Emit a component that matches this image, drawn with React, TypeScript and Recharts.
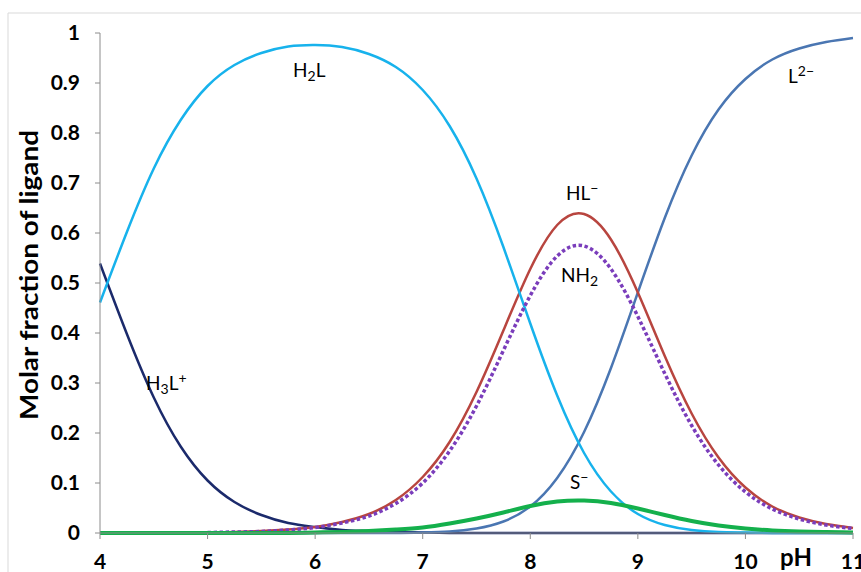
import React from 'react';
import { LineChart, Line, XAxis, YAxis } from 'recharts';

// values, every 0.25 pH unit
const phValues = [4, 4.25, 4.5, 4.75, 5, 5.25, 5.5, 5.75, 6, 6.25, 6.5, 6.75, 7, 7.25, 7.5, 7.75, 8, 8.25, 8.5, 8.75, 9, 9.25, 9.5, 9.75, 10, 10.25, 10.5, 10.75, 11];
const h3lValues = [0.539, 0.398, 0.271, 0.173, 0.105, 0.062, 0.036, 0.020, 0.012, 0.006, 0.004, 0.002, 0.001, 0, 0, 0, 0, 0, 0, 0, 0, 0, 0, 0, 0, 0, 0, 0, 0];
const h2lValues = [0.461, 0.602, 0.729, 0.826, 0.894, 0.936, 0.960, 0.973, 0.976, 0.972, 0.958, 0.932, 0.886, 0.814, 0.709, 0.572, 0.419, 0.275, 0.160, 0.083, 0.038, 0.016, 0.006, 0.002, 0.001, 0, 0, 0, 0];
const hlValues = [0, 0, 0, 0.001, 0.001, 0.002, 0.004, 0.007, 0.012, 0.022, 0.038, 0.066, 0.112, 0.182, 0.282, 0.405, 0.528, 0.616, 0.638, 0.587, 0.481, 0.354, 0.239, 0.151, 0.091, 0.053, 0.031, 0.018, 0.010];
const lValues = [0, 0, 0, 0, 0, 0, 0, 0, 0, 0, 0, 0, 0.001, 0.003, 0.009, 0.023, 0.053, 0.110, 0.202, 0.330, 0.481, 0.630, 0.755, 0.847, 0.908, 0.947, 0.969, 0.982, 0.990];
const nh2Values = [null, null, null, null, 0.001, 0.002, 0.003, 0.006, 0.011, 0.020, 0.034, 0.059, 0.100, 0.164, 0.254, 0.365, 0.475, 0.554, 0.574, 0.528, 0.433, 0.319, 0.215, 0.136, 0.082, 0.048, 0.028, 0.016, 0.009];
const sValues = [0, 0, 0, 0, 0, 0, 0, 0, 0.001, 0.002, 0.004, 0.007, 0.011, 0.019, 0.029, 0.041, 0.054, 0.063, 0.065, 0.060, 0.049, 0.036, 0.024, 0.015, 0.009, 0.005, 0.003, 0.002, 0.001];

const xTicks = [4, 5, 6, 7, 8, 9, 10, 11];
const yTicks = [0, 0.1, 0.2, 0.3, 0.4, 0.5, 0.6, 0.7, 0.8, 0.9, 1];

const rows = phValues.map((ph, i) => ({
  ph,
  h3l: h3lValues[i],
  h2l: h2lValues[i],
  hl: hlValues[i],
  l: lValues[i],
  nh2: nh2Values[i],
  s: sValues[i],
}));

const FONT = 'Lato, "Liberation Sans", sans-serif';
const tickStyle = { fontFamily: FONT, fontSize: 21, fontWeight: 700, fill: '#000' };

const App: React.FC = () => {
  return (
    <div style={{ position: 'absolute', left: 0, top: 0, width: 861, height: 572, background: '#fff' }}>
      {/* outer chart frame */}
      <svg width={861} height={572} style={{ position: 'absolute', left: 0, top: 0 }}>
        <line x1={8} y1={13} x2={861} y2={13} stroke="#d9d9d9" strokeWidth={1} />
        <line x1={8} y1={13} x2={8} y2={572} stroke="#d9d9d9" strokeWidth={1} />
      </svg>

      <div style={{ position: 'absolute', left: 0, top: 0 }}>
        <LineChart width={861} height={572} data={rows} margin={{ top: 33, right: 8, bottom: 0, left: 0 }}>
          <XAxis
            dataKey="ph"
            type="number"
            domain={[4, 11]}
            ticks={xTicks}
            tickSize={6}
            tickMargin={15}
            height={39}
            stroke="#8c8c8c"
            tick={tickStyle}
            interval={0}
          />
          <YAxis
            type="number"
            domain={[0, 1]}
            ticks={yTicks}
            tickSize={5}
            tickMargin={15}
            width={100}
            stroke="#8c8c8c"
            tick={tickStyle}
            interval={0}
          />
          <Line dataKey="h3l" type="natural" stroke="#1b2a6b" strokeWidth={2.5} dot={false} isAnimationActive={false} />
          <Line dataKey="l" type="natural" stroke="#4a76b2" strokeWidth={2.5} dot={false} isAnimationActive={false} />
          <Line dataKey="hl" type="natural" stroke="#b8453f" strokeWidth={2.5} dot={false} isAnimationActive={false} />
          <Line dataKey="h2l" type="natural" stroke="#17b2ec" strokeWidth={2.5} dot={false} isAnimationActive={false} />
          <Line dataKey="nh2" type="natural" stroke="#7a3dbb" strokeWidth={3.5} strokeDasharray="3.5 2.5" dot={false} isAnimationActive={false} connectNulls={false} />
          <Line dataKey="s" type="natural" stroke="#14b04c" strokeWidth={4} dot={false} isAnimationActive={false} />
        </LineChart>
      </div>

      {/* axis titles and curve labels */}
      <svg width={861} height={572} style={{ position: 'absolute', left: 0, top: 0, pointerEvents: 'none' }}>
        <g fontFamily={FONT}>
          <text x={38} y={275} transform="rotate(-90 38 275)" textAnchor="middle" fontSize={24} fontWeight={700} fill="#000" textLength={290} lengthAdjust="spacingAndGlyphs">
            Molar fraction of ligand
          </text>
          <text x={796} y={566} textAnchor="middle" fontSize={24} fontWeight={700} fill="#000">pH</text>

          <text x={293} y={77} fontSize={19} fill="#000">
            H<tspan fontSize={14} dy={4}>2</tspan><tspan dy={-4}>L</tspan>
          </text>
          <text x={788} y={83} fontSize={19} fill="#000">
            L<tspan fontSize={14} dy={-7}>2−</tspan>
          </text>
          <text x={566} y={200} fontSize={19} fill="#000">
            HL<tspan fontSize={14} dy={-7}>−</tspan>
          </text>
          <text x={561} y={282} fontSize={19} fill="#000">
            NH<tspan fontSize={14} dy={4}>2</tspan>
          </text>
          <text x={146} y={390} fontSize={19} fill="#000">
            H<tspan fontSize={14} dy={4}>3</tspan><tspan dy={-4}>L</tspan><tspan fontSize={14} dy={-7}>+</tspan>
          </text>
          <text x={570} y={489} fontSize={19} fill="#000">
            S<tspan fontSize={14} dy={-7}>−</tspan>
          </text>
        </g>
      </svg>
    </div>
  );
};

export default App;
